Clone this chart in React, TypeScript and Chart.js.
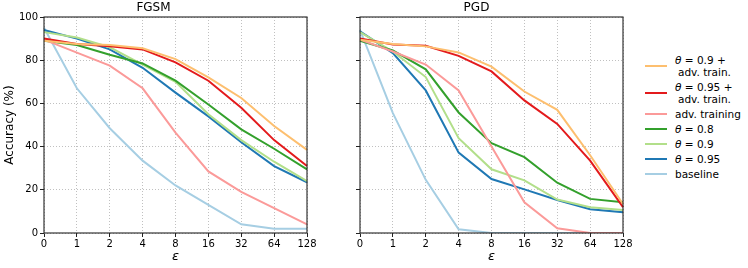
import React, { useEffect, useRef } from 'react';
import { Chart, registerables } from 'chart.js';

Chart.register(...registerables);

const epsilonLabels = ['0', '1', '2', '4', '8', '16', '32', '64', '128'];
const yMin = 0;
const yMax = 100;
const yStep = 20;

const seriesColors = ['#fdbf6f', '#e31a1c', '#fb9a99', '#33a02c', '#b2df8a', '#1f78b4', '#a6cee3'];
const seriesLegend = [
  ['θ = 0.9 +', 'adv. train.'],
  ['θ = 0.95 +', 'adv. train.'],
  ['adv. training'],
  ['θ = 0.8'],
  ['θ = 0.9'],
  ['θ = 0.95'],
  ['baseline'],
];

// FGSM
const fgsmTheta09Adv = [89, 87.5, 87, 85.5, 80.5, 72, 62.5, 49.5, 38.5];
const fgsmTheta095Adv = [90, 87.5, 86.5, 85, 79, 70.5, 58, 43, 31];
const fgsmAdvTraining = [89.5, 83.5, 77.5, 67, 46.5, 28.5, 19, 11.5, 4];
const fgsmTheta08 = [89, 87, 82.5, 78.5, 70.5, 59.5, 48, 39, 29.5];
const fgsmTheta09 = [93, 90.5, 86, 78, 70, 55, 43, 33, 24];
const fgsmTheta095 = [94, 90, 85, 76.5, 65, 54, 42, 31, 23.5];
const fgsmBaseline = [95, 67, 48.5, 33.5, 22, 13, 4, 2, 2];

// PGD
const pgdTheta09Adv = [89.5, 87.5, 86.4, 83.6, 77, 65.5, 57, 36, 13.4];
const pgdTheta095Adv = [90, 87.3, 86.7, 82, 74.8, 61.4, 50.5, 33.5, 12];
const pgdAdvTraining = [89.5, 84, 78, 66, 40, 14.2, 2.2, 0, 0];
const pgdTheta08 = [89, 84.5, 75.8, 55.8, 41.6, 35.1, 23.3, 15.8, 14.2];
const pgdTheta09 = [93, 84, 72.2, 43.9, 29.5, 24.4, 15.5, 11.9, 10.7];
const pgdTheta095 = [93.4, 83.3, 66, 37.2, 25, 20.2, 15.3, 11, 9.6];
const pgdBaseline = [94, 55.5, 24.6, 1.7, 0, 0, 0, 0, 0];

const fgsmSeries = [fgsmTheta09Adv, fgsmTheta095Adv, fgsmAdvTraining, fgsmTheta08, fgsmTheta09, fgsmTheta095, fgsmBaseline];
const pgdSeries = [pgdTheta09Adv, pgdTheta095Adv, pgdAdvTraining, pgdTheta08, pgdTheta09, pgdTheta095, pgdBaseline];

const FONT = "'DejaVu Sans', sans-serif";

const framePlugin = {
  id: 'frame',
  afterDraw(chart: any) {
    const { ctx, chartArea } = chart;
    ctx.save();
    ctx.strokeStyle = '#222';
    ctx.lineWidth = 1.1;
    ctx.strokeRect(chartArea.left, chartArea.top, chartArea.right - chartArea.left, chartArea.bottom - chartArea.top);
    ctx.restore();
  },
};

function makeConfig(title: string, series: number[][], showYLabels: boolean, yWidth: number, rightPad: number): any {
  return {
    type: 'line',
    data: {
      labels: epsilonLabels,
      datasets: series.map((values, i) => ({
        label: seriesLegend[i].join(' '),
        data: values,
        borderColor: seriesColors[i],
        backgroundColor: seriesColors[i],
        borderWidth: 2,
        pointRadius: 0,
        tension: 0,
        fill: false,
      })),
    },
    options: {
      responsive: false,
      animation: false,
      devicePixelRatio: 1,
      layout: { padding: { left: 0, right: rightPad, top: 0, bottom: 0 } },
      plugins: {
        legend: { display: false },
        tooltip: { enabled: false },
        title: {
          display: true,
          text: title,
          color: '#000',
          font: { family: FONT, size: 12, weight: 'normal' },
          padding: { top: 1, bottom: 1.6 },
        },
      },
      scales: {
        x: {
          type: 'category',
          offset: false,
          grid: {
            offset: false,
            color: '#b0b0b0',
            lineWidth: 0.8,
            tickColor: '#222',
            tickWidth: 1,
            tickLength: 4,
          },
          border: { display: false, dash: [1, 2] },
          ticks: {
            color: '#000',
            font: { family: FONT, size: 10 },
            padding: 1,
            autoSkip: false,
            maxRotation: 0,
          },
          title: {
            display: true,
            text: 'ε',
            color: '#000',
            font: { family: FONT, size: 13, style: 'italic' },
            padding: { top: 0, bottom: 4 },
          },
          afterFit(scale: any) {
            scale.height = 35;
          },
        },
        y: {
          min: yMin,
          max: yMax,
          grid: {
            color: '#b0b0b0',
            lineWidth: 0.8,
            tickColor: '#222',
            tickWidth: 1,
            tickLength: 4,
          },
          border: { display: false, dash: [1, 2] },
          ticks: {
            display: showYLabels,
            stepSize: yStep,
            color: '#000',
            font: { family: FONT, size: 10 },
            padding: 2,
          },
          title: {
            display: showYLabels,
            text: 'Accuracy (%)',
            color: '#000',
            font: { family: FONT, size: 12 },
            padding: { top: 3, bottom: 0 },
          },
          afterFit(scale: any) {
            scale.width = yWidth;
          },
        },
      },
    },
    plugins: [framePlugin],
  };
}

function LegendLabel({ text }: { text: string }) {
  if (text.startsWith('θ')) {
    return (
      <span>
        <i>θ</i>
        {text.slice(1)}
      </span>
    );
  }
  return <span>{text}</span>;
}

export default function App() {
  const leftRef = useRef<HTMLCanvasElement>(null);
  const rightRef = useRef<HTMLCanvasElement>(null);

  useEffect(() => {
    const c1 = new Chart(leftRef.current as HTMLCanvasElement, makeConfig('FGSM', fgsmSeries, true, 44, 23));
    const c2 = new Chart(rightRef.current as HTMLCanvasElement, makeConfig('PGD', pgdSeries, false, 30, 17));
    return () => {
      c1.destroy();
      c2.destroy();
    };
  }, []);

  return (
    <div
      style={{
        position: 'fixed',
        left: 0,
        top: 0,
        width: 748,
        height: 268,
        background: '#fff',
        fontFamily: FONT,
        overflow: 'hidden',
      }}
    >
      <canvas ref={leftRef} width={330} height={268} style={{ position: 'absolute', left: 0, top: 0, width: 330, height: 268 }} />
      <canvas ref={rightRef} width={310} height={268} style={{ position: 'absolute', left: 330, top: 0, width: 310, height: 268 }} />
      <div style={{ position: 'absolute', left: 645, top: 52.5, width: 103 }}>
        {seriesLegend.map((lines, i) => (
          <div key={i} style={{ display: 'flex', alignItems: 'center', padding: '1.5px 0' }}>
            <div style={{ width: 22, height: 2, background: seriesColors[i], flexShrink: 0 }} />
            <div style={{ marginLeft: 8, fontSize: 10.5, lineHeight: '12px', color: '#000', whiteSpace: 'nowrap' }}>
              {lines.map((line, j) => (
                <div key={j} style={{ paddingLeft: j > 0 ? 3 : 0 }}>
                  <LegendLabel text={line} />
                </div>
              ))}
            </div>
          </div>
        ))}
      </div>
    </div>
  );
}
